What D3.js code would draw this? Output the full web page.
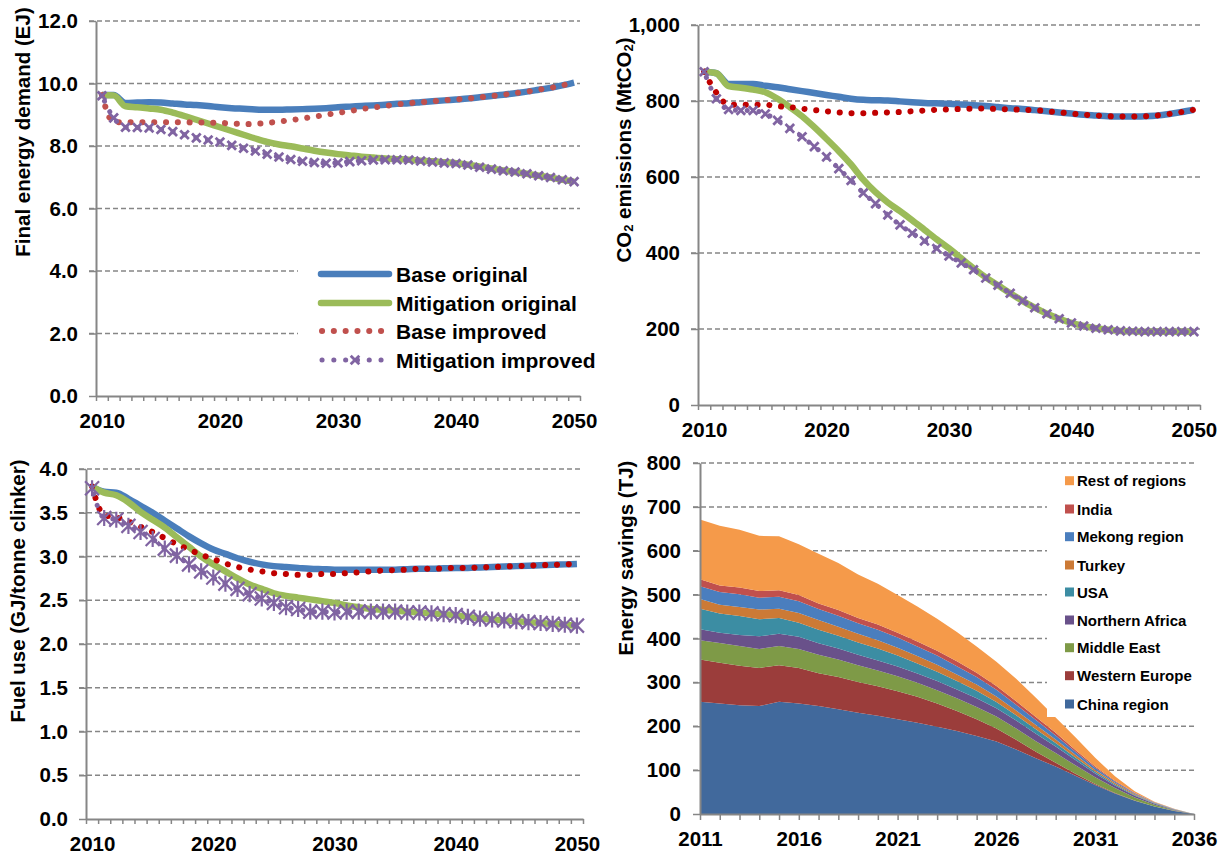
<!DOCTYPE html>
<html><head><meta charset="utf-8">
<script src="https://cdn.jsdelivr.net/npm/d3@7"></script>
<style>
body{margin:0;background:#fff;}
svg text{font-family:"Liberation Sans",Arial,sans-serif;font-weight:bold;fill:#000;}
</style></head><body>
<svg id="c" width="1224" height="858"></svg>
<script>
// ---------- categories ----------
const years = [2010,2011,2012,2013,2014,2015,2016,2017,2018,2019,2020,2021,2022,2023,2024,2025,2026,2027,2028,2029,2030,
  2031,2032,2033,2034,2035,2036,2037,2038,2039,2040,2041,2042,2043,2044,2045,2046,2047,2048,2049,2050];
const yearLabels = [2010,2020,2030,2040,2050];
const seriesNames = ["Base original","Mitigation original","Base improved","Mitigation improved"];

// ---------- panel 1: final energy demand (EJ) ----------
const energyBaseOriginal = [9.63,9.63,9.38,9.39,9.40,9.39,9.36,9.33,9.31,9.28,9.24,9.21,9.19,9.17,9.16,9.16,9.17,9.18,9.19,9.21,9.24,
  9.26,9.28,9.30,9.32,9.35,9.37,9.40,9.43,9.46,9.49,9.52,9.56,9.60,9.64,9.69,9.74,9.80,9.86,9.94,10.03];
const energyMitOriginal = [9.63,9.62,9.27,9.24,9.20,9.16,9.07,8.96,8.84,8.72,8.60,8.48,8.36,8.24,8.13,8.05,7.99,7.92,7.85,7.79,7.74,
  7.70,7.66,7.63,7.60,7.58,7.56,7.53,7.51,7.48,7.45,7.40,7.34,7.28,7.22,7.17,7.11,7.05,6.99,6.92,6.86];
const energyBaseImproved = [9.63,8.76,8.76,8.76,8.76,8.76,8.76,8.76,8.75,8.75,8.74,8.72,8.70,8.71,8.74,8.78,8.83,8.88,8.94,9.00,9.06,
  9.12,9.18,9.23,9.28,9.33,9.37,9.40,9.43,9.46,9.49,9.52,9.56,9.60,9.64,9.69,9.74,9.80,9.86,9.94,10.03];
const energyMitImproved = [9.61,8.90,8.60,8.59,8.58,8.53,8.46,8.36,8.26,8.19,8.13,8.02,7.93,7.84,7.74,7.65,7.57,7.51,7.47,7.45,7.46,
  7.50,7.53,7.55,7.56,7.56,7.55,7.52,7.49,7.46,7.44,7.39,7.32,7.26,7.21,7.17,7.11,7.05,6.99,6.92,6.86];
const energyTicks = [0,2,4,6,8,10,12];

// ---------- panel 2: CO2 emissions (MtCO2) ----------
const co2BaseOriginal = [877,873,845,845,845,840,836,831,826,821,816,811,806,803,802,801,799,797,795,794,793,
  791,789,787,784,781,779,776,773,770,767,764,762,760,759,759,760,762,766,771,777];
const co2MitOriginal = [877,873,839,835,830,823,806,784,760,731,700,668,633,593,560,533,510,486,461,436,412,
  386,360,336,315,294,274,256,240,227,216,208,202,198,195,194,193,193,193,193,193];
const co2BaseImproved = [877,822,790,790,790,790,786,784,780,776,773,770,768,768,769,770,771,773,775,777,778,
  779,780,780,779,778,777,776,773,770,767,764,762,760,759,759,760,762,766,771,777];
const co2MitImproved = [877,806,778,775,775,766,749,728,706,680,653,622,591,558,530,500,474,452,432,412,392,
  374,356,334,315,294,274,256,240,227,216,208,202,198,195,194,193,193,193,193,193];
const co2Ticks = [0,200,400,600,800,1000];

// ---------- panel 3: fuel use (GJ/tonne clinker) ----------
const fuelBaseOriginal = [3.80,3.74,3.73,3.66,3.58,3.50,3.41,3.32,3.23,3.15,3.08,3.03,2.98,2.94,2.91,2.89,2.88,2.87,2.86,2.855,2.85,
  2.85,2.85,2.85,2.85,2.85,2.855,2.86,2.86,2.865,2.87,2.87,2.875,2.88,2.885,2.89,2.895,2.90,2.905,2.91,2.915];
const fuelMitOriginal = [3.80,3.73,3.70,3.62,3.51,3.42,3.33,3.22,3.11,3.00,2.91,2.83,2.75,2.68,2.63,2.58,2.55,2.53,2.51,2.49,2.47,
  2.44,2.42,2.40,2.39,2.38,2.37,2.36,2.35,2.34,2.33,2.31,2.29,2.28,2.27,2.26,2.25,2.24,2.23,2.22,2.21];
const fuelBaseImproved = [3.80,3.47,3.45,3.40,3.34,3.28,3.21,3.14,3.08,3.02,2.97,2.92,2.88,2.85,2.83,2.81,2.80,2.79,2.79,2.80,2.80,
  2.81,2.82,2.83,2.84,2.845,2.85,2.86,2.86,2.865,2.87,2.87,2.875,2.88,2.885,2.89,2.895,2.90,2.905,2.91,2.915];
const fuelMitImproved = [3.78,3.44,3.42,3.35,3.28,3.20,3.09,3.01,2.91,2.83,2.76,2.69,2.63,2.57,2.52,2.47,2.42,2.40,2.37,2.37,2.36,
  2.37,2.37,2.37,2.37,2.37,2.36,2.36,2.35,2.34,2.33,2.31,2.29,2.28,2.27,2.26,2.25,2.24,2.23,2.22,2.21];
const fuelTicks = [0,0.5,1,1.5,2,2.5,3,3.5,4];

// ---------- panel 4: energy savings (TJ) ----------
const savingYears = [2011,2012,2013,2014,2015,2016,2017,2018,2019,2020,2021,2022,2023,2024,2025,2026,2027,2028,2029,2030,2031,2032,2033,2034,2035,2036];
const savingLabels = [2011,2016,2021,2026,2031,2036];
const chinaRegion    = [256,252,248,246,256,252,246,239,231,224,216,208,199,189,178,165,147,127,108,87,66,47,30,17,7,0];
const westernEurope  = [96,93,90,87,83,81,75,73,70,67,64,59,53,46,38,30,22,15,9,5,2.5,1,0.5,0.3,0.2,0];
const middleEast     = [44,45,45,43,44,43,42,40,38,36,34,32,30,29,28,27,26,24,22,19,15,11,7,4,1.5,0];
const northernAfrica = [25,23,25,29,28,28,26,25,24,23,22,21,21,20,20,19,18,17,15,12,9,6,4,2,1,0];
const usa            = [47,44,43,39,36,32,31,29,28,27,25,23,21,19,17,14,12,10,8,6,4,3,2,1,0.5,0];
const turkey         = [22,20,21,22,21,22,22,21,20,19,18,17,16,15,14,13,11,10,8,6,4,3,2,1,0.5,0];
const mekongRegion   = [29,29,29,27,27,27,25,25,24,24,23,22,21,19,17,15,13,11,9,7,5,3,2,1,0.5,0];
const india          = [16,15,15,15,15,14,13,13,12,12,11,11,11,11,10,9,8,7,6,4,3,2,1,0.5,0.3,0];
const restOfRegions  = [136,136,132,126,123,116,113,107,99,93,86,80,73,67,60,55,51,44,35,29,19.5,10,3.5,1,0.3,0];
const regionNames = ["China region","Western Europe","Middle East","Northern Africa","USA","Turkey","Mekong region","India","Rest of regions"];
const regionValues = [chinaRegion,westernEurope,middleEast,northernAfrica,usa,turkey,mekongRegion,india,restOfRegions];
const regionColors = ["#41699C","#9B3D3B","#7E9A47","#69518A","#3C8DA3","#CC7A36","#4A7EBE","#C0504D","#F59A4A"];
const savingTicks = [0,100,200,300,400,500,600,700,800];

// ---------- drawing ----------
const svg = d3.select("#c");
const GRID = "#868686";
const FONT = "'Liberation Sans', Arial, sans-serif";
const BLUE = "#4A7EBB", GREEN = "#9BBB59", PURPLE = "#8064A2";

function styleAxis(sel, fs) {
  sel.attr("font-family", null).attr("font-size", null);
  sel.select(".domain").attr("stroke", GRID).attr("stroke-width", 2);
  sel.selectAll(".tick line").attr("stroke", GRID).attr("stroke-width", 1.5);
  sel.selectAll("text").attr("font-size", fs).attr("font-weight", "bold").attr("fill", "#000").attr("font-family", FONT);
}

function markerPath(cx, cy, s, star) {
  let d = `M${cx-s},${cy-s}L${cx+s},${cy+s}M${cx-s},${cy+s}L${cx+s},${cy-s}`;
  if (star) d += `M${cx},${cy-s*1.15}L${cx},${cy+s*1.15}`;
  return d;
}

function axisTitle(x, y, parts) {
  const t = svg.append("text").attr("transform", `translate(${x},${y}) rotate(-90)`)
    .attr("text-anchor", "middle").attr("dominant-baseline", "central")
    .attr("font-size", 20.5).attr("font-family", FONT).attr("font-weight", "bold");
  parts.forEach(p => {
    const ts = t.append("tspan").text(p.t);
    if (p.sub) ts.attr("font-size", 13).attr("dy", 5);
    if (p.after) ts.attr("dy", -5);
  });
}

function drawLinePanel(p) {
  const x = d3.scaleLinear().domain([2009.5, 2050.5]).range([p.x0, p.x1]);
  const y = d3.scaleLinear().domain([0, p.yMax]).range([p.yB, p.yT]);
  const g = svg.append("g");
  g.selectAll("line.grid").data(p.ticks.filter(d => d > 0)).join("line").attr("class", "grid")
    .attr("x1", p.x0 - 7).attr("x2", p.x1).attr("y1", d => y(d)).attr("y2", d => y(d))
    .attr("stroke", GRID).attr("stroke-width", 1.5).attr("stroke-dasharray", "5,3");
  if (p.legendBox) {
    g.append("rect").attr("x", p.legendBox[0]).attr("y", p.legendBox[1])
      .attr("width", p.legendBox[2]).attr("height", p.legendBox[3]).attr("fill", "#fff");
  }
  const ya = g.append("g").attr("transform", `translate(${p.x0},0)`)
    .call(d3.axisLeft(y).tickValues(p.ticks).tickSize(7).tickSizeOuter(0).tickPadding(11).tickFormat(p.fmt));
  styleAxis(ya, 20.5);
  const boundaries = years.map(v => v - 0.5).concat([years[years.length - 1] + 0.5]);
  const xm = g.append("g").attr("transform", `translate(0,${p.yB})`)
    .call(d3.axisBottom(x).tickValues(boundaries).tickSize(5).tickSizeOuter(0).tickFormat(""));
  styleAxis(xm, 20.5);
  const xl = g.append("g").attr("transform", `translate(0,${p.yB})`)
    .call(d3.axisBottom(x).tickValues(yearLabels).tickSize(0).tickPadding(17).tickFormat(d3.format("d")));
  styleAxis(xl, 20.5);
  xl.select(".domain").remove();

  const line = d3.line().x((d, i) => x(years[i])).y(d => y(d)).curve(d3.curveMonotoneX);
  const s = p.series;
  g.append("path").datum(s[0]).attr("d", line).attr("fill", "none").attr("stroke", BLUE).attr("stroke-width", 6.5);
  g.append("path").datum(s[1]).attr("d", line).attr("fill", "none").attr("stroke", GREEN).attr("stroke-width", 6.5);
  g.append("path").datum(s[2]).attr("d", line).attr("fill", "none").attr("stroke", p.red)
    .attr("stroke-width", 6).attr("stroke-linecap", "round").attr("stroke-dasharray", "0.1 11.7");
  g.append("path").datum(s[3]).attr("d", line).attr("fill", "none").attr("stroke", PURPLE)
    .attr("stroke-width", 5).attr("stroke-linecap", "round").attr("stroke-dasharray", "0.1 11.7").attr("stroke-dashoffset", -5.9);
  g.append("g").selectAll("path").data(s[3]).join("path")
    .attr("d", (d, i) => markerPath(x(years[i]), y(d), p.mk, p.star))
    .attr("stroke", PURPLE).attr("stroke-width", p.mkw).attr("fill", "none");

  axisTitle(p.tx, p.ty, p.title);
  return g;
}

// Panel 1
drawLinePanel({x0: 96, x1: 580, yB: 396, yT: 21, yMax: 12, ticks: energyTicks, fmt: d3.format(".1f"),
  series: [energyBaseOriginal, energyMitOriginal, energyBaseImproved, energyMitImproved], red: "#C0504D",
  mk: 4.3, mkw: 2.8, star: false, legendBox: [298, 252, 305, 126],
  tx: 22, ty: 132, title: [{t: "Final energy demand (EJ)"}]});

// Panel 1 legend
const legY = [274, 303, 331, 360];
const lg = svg.append("g");
lg.append("line").attr("x1", 321).attr("x2", 389).attr("y1", legY[0]).attr("y2", legY[0]).attr("stroke", BLUE).attr("stroke-width", 6.5).attr("stroke-linecap", "round");
lg.append("line").attr("x1", 321).attr("x2", 389).attr("y1", legY[1]).attr("y2", legY[1]).attr("stroke", GREEN).attr("stroke-width", 6.5).attr("stroke-linecap", "round");
lg.append("line").attr("x1", 322).attr("x2", 384).attr("y1", legY[2]).attr("y2", legY[2]).attr("stroke", "#C0504D").attr("stroke-width", 6).attr("stroke-linecap", "round").attr("stroke-dasharray", "0.1 11.7");
lg.append("line").attr("x1", 322).attr("x2", 384).attr("y1", legY[3]).attr("y2", legY[3]).attr("stroke", PURPLE).attr("stroke-width", 5).attr("stroke-linecap", "round").attr("stroke-dasharray", "0.1 11.7");
lg.append("path").attr("d", markerPath(355, legY[3], 4.3, false)).attr("stroke", PURPLE).attr("stroke-width", 2.8);
lg.selectAll("text").data(seriesNames).join("text").attr("x", 396).attr("y", (d, i) => legY[i])
  .attr("dominant-baseline", "central").attr("font-size", 21).attr("font-family", FONT).text(d => d);

// Panel 2
drawLinePanel({x0: 698, x1: 1200, yB: 405, yT: 25, yMax: 1000, ticks: co2Ticks, fmt: d3.format(","),
  series: [co2BaseOriginal, co2MitOriginal, co2BaseImproved, co2MitImproved], red: "#C00000",
  mk: 4.3, mkw: 2.8, star: false,
  tx: 623, ty: 150, title: [{t: "CO"}, {t: "2", sub: true}, {t: " emissions (MtCO", after: true}, {t: "2", sub: true}, {t: ")", after: true}]});

// Panel 3
drawLinePanel({x0: 86, x1: 583, yB: 819, yT: 469, yMax: 4, ticks: fuelTicks, fmt: d3.format(".1f"),
  series: [fuelBaseOriginal, fuelMitOriginal, fuelBaseImproved, fuelMitImproved], red: "#C00000",
  mk: 7, mkw: 2.2, star: true,
  tx: 17, ty: 591, title: [{t: "Fuel use (GJ/tonne clinker)"}]});

// Panel 4: stacked area
(function() {
  const x0 = 700, x1 = 1194, yB = 814, yT = 463;
  const x = d3.scaleLinear().domain([savingYears[0], savingYears[savingYears.length - 1]]).range([x0, x1]);
  const y = d3.scaleLinear().domain([0, 800]).range([yB, yT]);
  const table = savingYears.map((yr, i) => {
    const row = {year: yr};
    regionNames.forEach((n, k) => row[n] = regionValues[k][i]);
    return row;
  });
  const stack = d3.stack().keys(regionNames)(table);
  const g = svg.append("g");
  g.selectAll("line.grid").data(savingTicks.filter(d => d > 0)).join("line")
    .attr("x1", x0 - 7).attr("x2", x1).attr("y1", d => y(d)).attr("y2", d => y(d))
    .attr("stroke", GRID).attr("stroke-width", 1.5).attr("stroke-dasharray", "5,3");
  const area = d3.area().x(d => x(d.data.year)).y0(d => y(d[0])).y1(d => y(d[1]));
  g.selectAll("path.layer").data(stack).join("path").attr("class", "layer")
    .attr("d", area).attr("fill", (d, i) => regionColors[i]);
  g.append("rect").attr("x", 1047).attr("y", 466).attr("width", 155).attr("height", 251).attr("fill", "#fff");
  const legendY = [704, 675.7, 647.7, 620, 592, 565, 536.7, 509, 480.7];
  const lg4 = g.append("g");
  regionNames.forEach((n, i) => {
    lg4.append("rect").attr("x", 1065).attr("y", legendY[i] - 4.5).attr("width", 9).attr("height", 9).attr("fill", regionColors[i]);
    lg4.append("text").attr("x", 1077).attr("y", legendY[i]).attr("dominant-baseline", "central")
      .attr("font-size", 15).attr("font-family", FONT).text(n);
  });
  const ya = g.append("g").attr("transform", `translate(${x0},0)`)
    .call(d3.axisLeft(y).tickValues(savingTicks).tickSize(7).tickSizeOuter(0).tickPadding(12).tickFormat(d3.format("d")));
  styleAxis(ya, 20.5);
  const xa = g.append("g").attr("transform", `translate(0,${yB})`)
    .call(d3.axisBottom(x).tickValues(savingYears).tickSize(6).tickSizeOuter(0).tickFormat(""));
  styleAxis(xa, 20.5);
  const xl = g.append("g").attr("transform", `translate(0,${yB})`)
    .call(d3.axisBottom(x).tickValues(savingLabels).tickSize(0).tickPadding(17).tickFormat(d3.format("d")));
  styleAxis(xl, 20.5);
  xl.select(".domain").remove();
  axisTitle(625, 558, [{t: "Energy savings (TJ)"}]);
})();
</script>
</body></html>
